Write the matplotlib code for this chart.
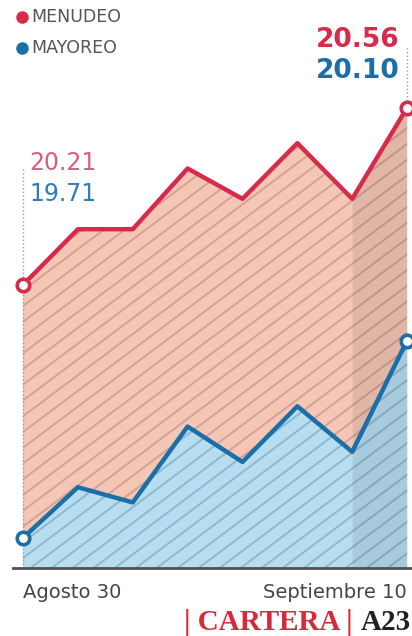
import numpy as np
import matplotlib.pyplot as plt
from matplotlib.collections import LineCollection

## Data (daily prices)
days = list(range(8))
menudeo = [20.21, 20.32, 20.32, 20.44, 20.38, 20.49, 20.38, 20.56]
mayoreo = [19.71, 19.81, 19.78, 19.93, 19.86, 19.97, 19.88, 20.10]
series_names = ['MENUDEO', 'MAYOREO']
x_labels = ['Agosto 30', 'Septiembre 10']

RED = '#d82a4c'
BLUE = '#1b6ea6'
W, H = 412, 636
base = 19.65

fig = plt.figure(figsize=(W / 100, H / 100), dpi=100)
ax = fig.add_axes([0, 0, 1, 1])
ax.set_xlim(-0.42, 7.09)
ax.set_ylim(19.516, 20.773)
ax.axis('off')


def hatch_lines(poly, color, z):
    # diagonal stripes (~37 deg, ~21 px apart) clipped to the area
    slope = 0.75 * W / H
    step = 21 / W
    segs = [[(x0, 0), (x0 + 1 / slope, 1)] for x0 in np.arange(-3, 1.1, step)]
    lc = LineCollection(segs, colors=color, linewidths=1.4, transform=ax.transAxes,
                        zorder=z)
    lc.set_clip_path(poly.get_paths()[0], poly.get_transform())
    ax.add_collection(lc)


# areas with hatching
red_area = ax.fill_between(days, base, menudeo, facecolor='#f4c6b6', linewidth=0, zorder=1)
hatch_lines(red_area, '#d4a294', 1.5)
blue_area = ax.fill_between(days, base, mayoreo, facecolor='#b6ddf0', linewidth=0, zorder=2)
hatch_lines(blue_area, '#90b8cd', 2.5)
# darker band over the last day
ax.fill_between(days[-2:], base, menudeo[-2:], color='black', alpha=0.08,
                linewidth=0, zorder=3)

# dotted guides
ax.vlines(days[0], base, 20.44, colors='#9a9a9a', linestyles=':', lw=1, zorder=3)
ax.vlines(days[-1], menudeo[-1], 20.68, colors='#9a9a9a', linestyles=':', lw=1, zorder=3)

# lines
ax.plot(days, menudeo, color=RED, lw=3.2, zorder=4)
ax.plot(days, mayoreo, color=BLUE, lw=3.2, zorder=4)
for vals, c in [(menudeo, RED), (mayoreo, BLUE)]:
    ax.plot([days[0], days[-1]], [vals[0], vals[-1]], 'o', ms=9, mfc='white',
            mec=c, mew=2.6, zorder=5, clip_on=False)

# baseline
ax.axhline(base, xmin=13 / W, color='#505050', lw=2, zorder=6)

# legend
for i, (name, c) in enumerate(zip(series_names, [RED, BLUE])):
    yy = 1 - (17 + 31 * i) / H
    fig.lines.append(plt.Line2D([22 / W], [yy], marker='o', ms=8, color=c,
                                transform=fig.transFigure))
    fig.text(31 / W, yy, name, fontsize=12.5, color='#555555', va='center',
             ha='left')

# value labels
fig.text(400 / W, 1 - 47 / H, f'{menudeo[-1]:.2f}', fontsize=19, fontweight='bold',
         color=RED, ha='right', va='baseline')
fig.text(400 / W, 1 - 78 / H, f'{mayoreo[-1]:.2f}', fontsize=19, fontweight='bold',
         color=BLUE, ha='right', va='baseline')
fig.text(29 / W, 1 - 170 / H, f'{menudeo[0]:.2f}', fontsize=17, color='#d5607c',
         ha='left', va='baseline')
fig.text(29 / W, 1 - 201 / H, f'{mayoreo[0]:.2f}', fontsize=17, color='#2c7db3',
         ha='left', va='baseline')

# x labels
fig.text(23 / W, 1 - 598 / H, x_labels[0], fontsize=14, color='#444444',
         ha='left', va='baseline')
fig.text(407 / W, 1 - 598 / H, x_labels[1], fontsize=14, color='#444444',
         ha='right', va='baseline')

# section footer
fig.text(353 / W, 1 - 630 / H, '| CARTERA |', fontsize=21, fontweight='bold',
         family='Liberation Serif', color='#d42a3a', ha='right', va='baseline')
fig.text(361 / W, 1 - 630 / H, 'A23', fontsize=21, fontweight='bold',
         family='Liberation Serif', color='#222222', ha='left', va='baseline')

fig.savefig('out.png', dpi=100)
